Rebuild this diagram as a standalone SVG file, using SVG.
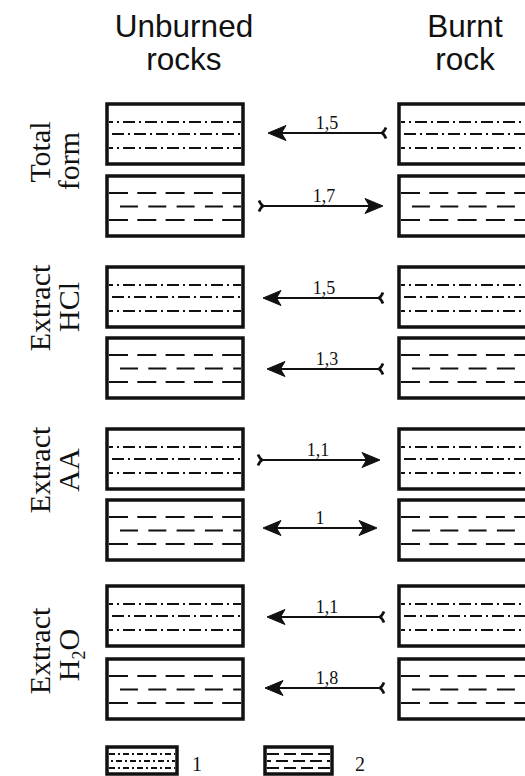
<svg xmlns="http://www.w3.org/2000/svg" width="525" height="776" viewBox="0 0 525 776">
<style>
.hdr{font-family:"Liberation Sans",Arial,sans-serif;font-size:31.5px;fill:#111;text-anchor:middle}
.lab{font-family:"Liberation Serif","Times New Roman",serif;font-size:30px;fill:#111;text-anchor:middle}
.num{font-family:"Liberation Serif","Times New Roman",serif;font-size:18px;fill:#111;text-anchor:middle}
.leg{font-family:"Liberation Serif","Times New Roman",serif;font-size:20px;fill:#111}
.box{fill:#fff;stroke:#111;stroke-width:3.5}
.dd{stroke:#111;stroke-width:2;stroke-dasharray:12 4 2 4;fill:none}
.da{stroke:#111;stroke-width:2;stroke-dasharray:19 9.3;fill:none}
.ar{stroke:#111;stroke-width:2;fill:none}
</style>
<defs>
<path id="ah" d="M0,0 L18,-7.5 L13.5,0 L18,7.5 Z" fill="#111" stroke="#111" stroke-width="1" stroke-linejoin="miter"/>
<path id="tl" d="M-4,-5.5 Q-2,-1 0,0 Q-2,1 -4,5.5" fill="none" stroke="#111" stroke-width="2.8"/>
<g id="p1">
<rect class="box" x="0" y="0" width="136" height="60"/>
<line class="dd" x1="2" y1="18" x2="134" y2="18" stroke-dashoffset="8"/>
<line class="dd" x1="2" y1="30" x2="134" y2="30" stroke-dashoffset="19"/>
<line class="dd" x1="2" y1="44" x2="134" y2="44" stroke-dashoffset="8"/>
</g>
<g id="p2">
<rect class="box" x="0" y="0" width="136" height="60"/>
<line class="da" x1="2" y1="17" x2="134" y2="17"/>
<line class="da" x1="13" y1="30.5" x2="134" y2="30.5" style="stroke-dasharray:18 10.3"/>
<line class="da" x1="2" y1="44" x2="134" y2="44"/>
</g>
</defs>
<rect width="525" height="776" fill="#fff"/>
<g id="headers">
<text class="hdr" x="184" y="37">Unburned</text>
<text class="hdr" x="184" y="70">rocks</text>
<text class="hdr" x="465" y="37">Burnt</text>
<text class="hdr" x="465" y="70">rock</text>
</g>
<g id="row-labels">
<text class="lab" transform="translate(50,152) rotate(-90)">Total</text>
<text class="lab" transform="translate(79,161) rotate(-90)">form</text>
<text class="lab" transform="translate(50,308) rotate(-90)">Extract</text>
<text class="lab" transform="translate(79,307) rotate(-90)">HCl</text>
<text class="lab" transform="translate(50,470) rotate(-90)">Extract</text>
<text class="lab" transform="translate(79,470) rotate(-90)">AA</text>
<text class="lab" transform="translate(50,651) rotate(-90)">Extract</text>
<text class="lab" transform="translate(79,655) rotate(-90)">H<tspan font-size="18" dy="6">2</tspan><tspan dy="-6">O</tspan></text>
</g>
<g id="u1"><use href="#p1" x="107" y="104"/></g>
<g id="u2"><use href="#p2" x="107" y="176"/></g>
<g id="u3"><use href="#p1" x="107" y="267"/></g>
<g id="u4"><use href="#p2" x="107" y="338"/></g>
<g id="u5"><use href="#p1" x="107" y="429"/></g>
<g id="u6"><use href="#p2" x="107" y="500"/></g>
<g id="u7"><use href="#p1" x="107" y="586"/></g>
<g id="u8"><use href="#p2" x="107" y="659"/></g>
<g id="b1"><use href="#p1" x="399" y="104"/></g>
<g id="b2"><use href="#p2" x="399" y="176"/></g>
<g id="b3"><use href="#p1" x="399" y="267"/></g>
<g id="b4"><use href="#p2" x="399" y="338"/></g>
<g id="b5"><use href="#p1" x="399" y="429"/></g>
<g id="b6"><use href="#p2" x="399" y="500"/></g>
<g id="b7"><use href="#p1" x="399" y="586"/></g>
<g id="b8"><use href="#p2" x="399" y="659"/></g>
<g id="connectors">
<line class="ar" x1="382" y1="133" x2="279" y2="133"/>
<use href="#ah" transform="translate(268,133)"/>
<use href="#tl" transform="translate(382,133) scale(-1,1)"/>
<text class="num" x="327" y="129">1,5</text>
<line class="ar" x1="263" y1="206" x2="372" y2="206"/>
<use href="#ah" transform="translate(383,206) scale(-1,1)"/>
<use href="#tl" transform="translate(263,206)"/>
<text class="num" x="324" y="202">1,7</text>
<line class="ar" x1="379" y1="298" x2="274" y2="298"/>
<use href="#ah" transform="translate(263,298)"/>
<use href="#tl" transform="translate(379,298) scale(-1,1)"/>
<text class="num" x="324" y="294">1,5</text>
<line class="ar" x1="379" y1="369" x2="278" y2="369"/>
<use href="#ah" transform="translate(267,369)"/>
<use href="#tl" transform="translate(379,369) scale(-1,1)"/>
<text class="num" x="327" y="365">1,3</text>
<line class="ar" x1="262" y1="460" x2="369" y2="460"/>
<use href="#ah" transform="translate(380,460) scale(-1,1)"/>
<use href="#tl" transform="translate(262,460)"/>
<text class="num" x="318" y="456">1,1</text>
<line class="ar" x1="274" y1="528" x2="366" y2="528"/>
<use href="#ah" transform="translate(263,528)"/>
<use href="#ah" transform="translate(377,528) scale(-1,1)"/>
<text class="num" x="320" y="524">1</text>
<line class="ar" x1="380" y1="617" x2="278" y2="617"/>
<use href="#ah" transform="translate(267,617)"/>
<use href="#tl" transform="translate(380,617) scale(-1,1)"/>
<text class="num" x="327" y="613">1,1</text>
<line class="ar" x1="380" y1="688" x2="276" y2="688"/>
<use href="#ah" transform="translate(265,688)"/>
<use href="#tl" transform="translate(380,688) scale(-1,1)"/>
<text class="num" x="327" y="684">1,8</text>
</g>
<g id="legend1">
<rect class="box" x="107" y="747" width="70" height="27"/>
<line class="dd" x1="109" y1="754" x2="175" y2="754" style="stroke-dasharray:6 3 2 3"/>
<line class="dd" x1="109" y1="761" x2="175" y2="761" style="stroke-dasharray:6 3 2 3" stroke-dashoffset="7"/>
<line class="dd" x1="109" y1="768" x2="175" y2="768" style="stroke-dasharray:6 3 2 3"/>
<text class="leg" x="192" y="771">1</text>
</g>
<g id="legend2">
<rect class="box" x="265" y="747" width="67" height="27"/>
<line class="da" x1="267" y1="754" x2="330" y2="754" style="stroke-dasharray:12 5"/>
<line class="da" x1="267" y1="761" x2="330" y2="761" style="stroke-dasharray:12 5" stroke-dashoffset="8"/>
<line class="da" x1="267" y1="768" x2="330" y2="768" style="stroke-dasharray:12 5"/>
<text class="leg" x="355" y="771">2</text>
</g>
</svg>
